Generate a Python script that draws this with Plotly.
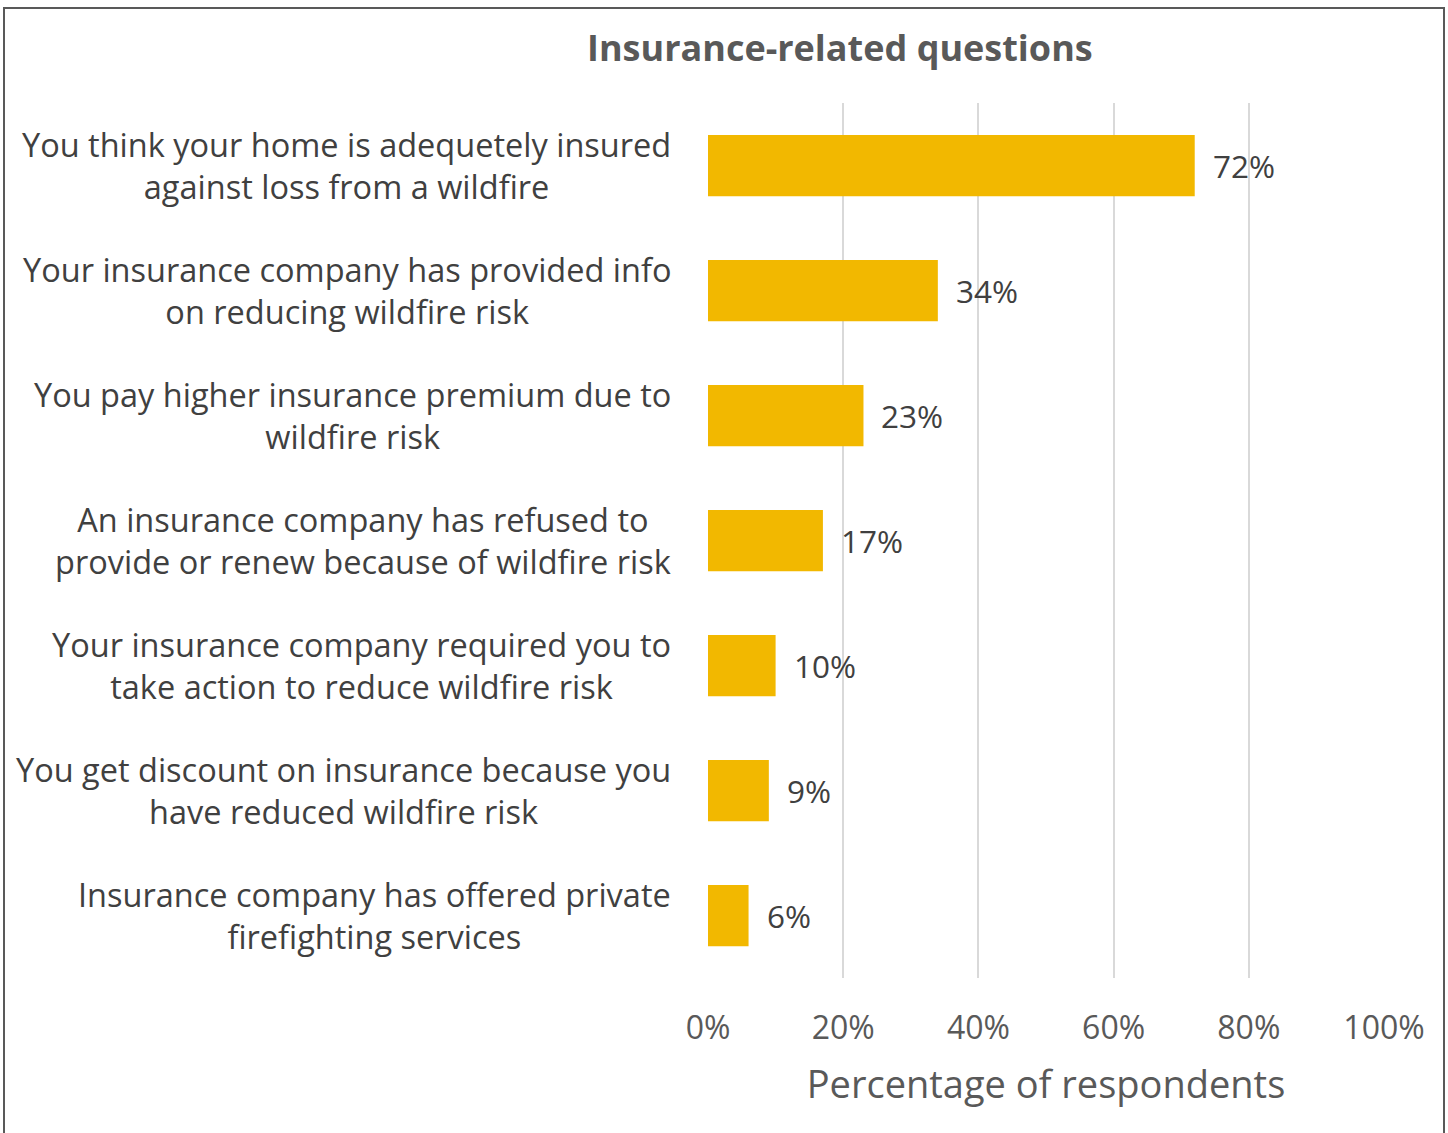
import plotly.graph_objects as go

# Survey results: share of respondents answering "yes" to each insurance question
questions = [
    "You think your home is adequetely insured<br>against loss from a wildfire",
    "Your insurance company has provided info<br>on reducing wildfire risk",
    "You pay higher insurance premium due to<br>wildfire risk",
    "An insurance company has refused to<br>provide or renew because of wildfire risk",
    "Your insurance company required you to<br>take action to reduce wildfire risk",
    "You get discount on insurance because you<br>have reduced wildfire risk",
    "Insurance company has offered private<br>firefighting services",
]
shares = [72, 34, 23, 17, 10, 9, 6]
x_ticks = [0, 20, 40, 60, 80, 100]
x_tick_labels = ["0%", "20%", "40%", "60%", "80%", "100%"]

W, H = 1448, 1133
PLOT_L, PLOT_R, PLOT_T, PLOT_B = 708, 1384, 103, 978
FONT = "Open Sans"
BAR = "#F2B800"
TEXT_DARK = "#404040"
TEXT_GRAY = "#595959"


def px_x(px):
    return (px - PLOT_L) / (PLOT_R - PLOT_L)


def px_y(py):
    return (PLOT_B - py) / (PLOT_B - PLOT_T)


fig = go.Figure(
    go.Bar(
        x=shares,
        y=questions,
        orientation="h",
        marker=dict(color=BAR, line=dict(width=0)),
        width=0.49,
        hoverinfo="skip",
    )
)

annotations = []
for q, v in zip(questions, shares):
    # category label, centred lines, right edge next to the axis
    annotations.append(dict(
        x=0, xref="paper", y=q, yref="y", text=q, showarrow=False,
        xanchor="right", yanchor="middle", align="center", xshift=-35,
        font=dict(family=FONT, size=32.5, color=TEXT_DARK),
    ))
    # value label just past the bar end
    annotations.append(dict(
        x=v, xref="x", y=q, yref="y", text=f"{v}%", showarrow=False,
        xanchor="left", yanchor="middle", xshift=16,
        font=dict(family=FONT, size=31.5, color=TEXT_DARK),
    ))

annotations.append(dict(
    x=px_x(840), xref="paper", y=px_y(48), yref="paper",
    text="<b>Insurance-related questions</b>", showarrow=False,
    xanchor="center", yanchor="middle",
    font=dict(family=FONT, size=36, color=TEXT_GRAY),
))

fig.update_layout(
    width=W, height=H,
    margin=dict(l=PLOT_L, r=W - PLOT_R, t=PLOT_T, b=H - PLOT_B, pad=0),
    paper_bgcolor="white", plot_bgcolor="white",
    showlegend=False,
    bargap=0.51,
    annotations=annotations,
    shapes=[dict(
        type="rect", xref="paper", yref="paper",
        x0=px_x(4), x1=px_x(1444), y0=px_y(1140), y1=px_y(8),
        line=dict(color="#595959", width=2), fillcolor="rgba(0,0,0,0)",
        layer="above",
    )],
    xaxis=dict(
        range=[0, 100], tickvals=x_ticks, ticktext=x_tick_labels,
        showgrid=True, gridcolor="#D9D9D9", gridwidth=2,
        zeroline=False, showline=False, ticks="",
        tickfont=dict(family=FONT, size=32, color=TEXT_GRAY),
        ticklabelstandoff=28,
        title=dict(text="Percentage of respondents", standoff=24,
                   font=dict(family=FONT, size=38, color=TEXT_GRAY)),
        fixedrange=True,
    ),
    yaxis=dict(
        autorange="reversed", showticklabels=False, showgrid=False,
        zeroline=False, showline=False, ticks="", fixedrange=True,
    ),
)

fig.write_html("out.html")
